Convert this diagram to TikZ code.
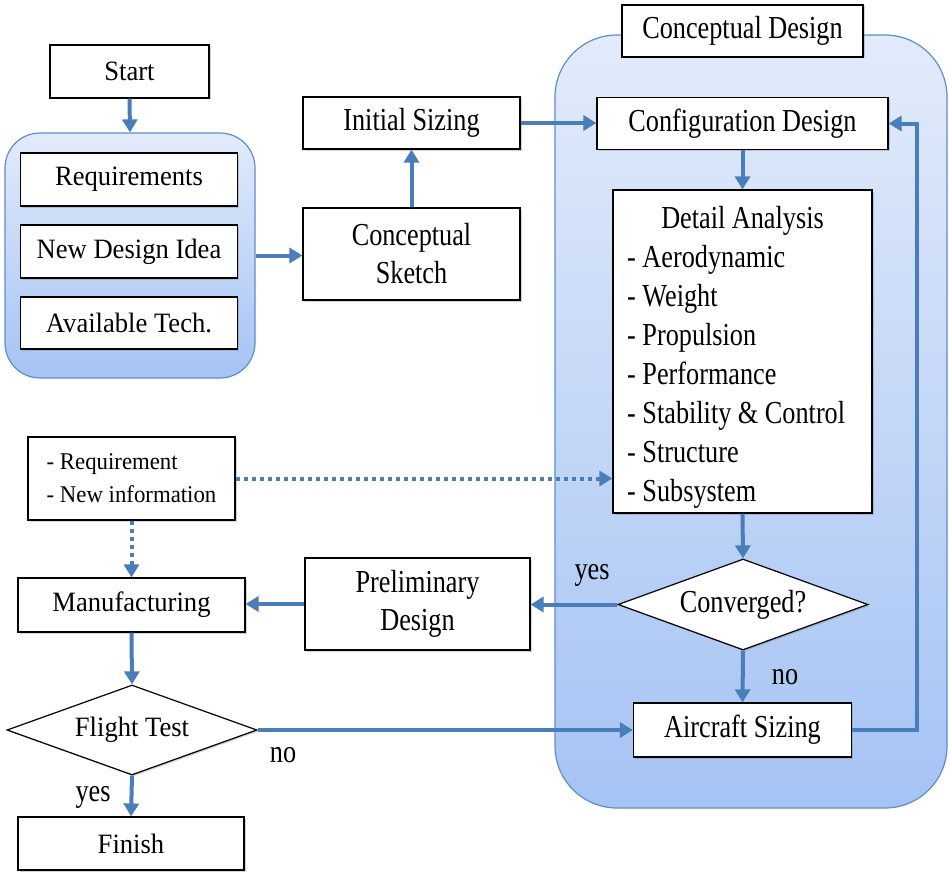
\documentclass[tikz,border=0pt]{standalone}
\usepackage{fontspec}
\setmainfont[FakeStretch=0.82]{Liberation Serif}
\newfontfamily\leftfam[FakeStretch=0.95]{Liberation Serif}
\usetikzlibrary{arrows.meta,shapes.geometric,shadows}
\definecolor{arr}{HTML}{4A7EBB}
\definecolor{gborder}{HTML}{5F8DCA}
\definecolor{gtop}{HTML}{E2EBFA}
\definecolor{gbot}{HTML}{A5C3F4}
\begin{document}
\begin{tikzpicture}[x=1pt,y=-1pt,
  every node/.style={font=\fontsize{32}{38}\selectfont},
  lf/.style={font=\leftfam\fontsize{28}{34}\selectfont},
  shad/.style={drop shadow={shadow xshift=1.5pt,shadow yshift=-1.5pt,opacity=0.35}},
  box/.style={draw=black, line width=1.2pt, fill=white, inner sep=0pt, align=center, shad},
  dia/.style={diamond, aspect=2.75, draw=black, line width=1.2pt, fill=white, inner sep=0pt, shad},
  grp/.style={draw=gborder, line width=1.2pt, top color=gtop, bottom color=gbot, inner sep=0pt},
  flow/.style={draw=arr, line width=4pt, -{Triangle[length=13pt,width=15pt]}},
  dots/.style={flow, dash pattern=on 4pt off 4pt},
  lbl/.style={inner sep=0pt}
]
\useasboundingbox (0,0) rectangle (949,872);

% group containers
\node[grp, rounded corners=35pt, minimum width=250pt, minimum height=245pt] (grp) at (130,255.5) {};
\node[grp, rounded corners=62pt, minimum width=392pt, minimum height=773pt] (cd) at (751,421.5) {};

% left column
\node[box, lf, minimum width=159pt, minimum height=53pt] (start) at (129.5,71.5) {Start};
\node[box, lf, minimum width=217pt, minimum height=53pt] (req) at (129,179.5) {Requirements};
\node[box, lf, minimum width=217pt, minimum height=53pt] (ndi) at (129,251.5) {New Design Idea};
\node[box, lf, minimum width=217pt, minimum height=52pt] (avail) at (129,323) {Available Tech.};

\node[box, minimum width=207pt, minimum height=83pt, align=left, font=\leftfam\fontsize{24}{33}\selectfont] (reqinfo) at (131.5,478.5) {- Requirement\\- New information};
\node[box, lf, minimum width=227pt, minimum height=54pt] (manu) at (131.5,605) {Manufacturing};
\node[dia, lf, minimum width=250pt, minimum height=90pt] (flight) at (132,730) {Flight Test};
\node[box, lf, minimum width=226pt, minimum height=53pt] (finish) at (131,843.5) {Finish};

% middle column
\node[box, minimum width=217pt, minimum height=92pt] (csketch) at (411.5,254) {Conceptual\\Sketch};
\node[box, minimum width=217pt, minimum height=52pt] (isizing) at (411.5,123) {Initial Sizing};
\node[box, minimum width=225pt, minimum height=92pt] (prelim) at (417.5,604) {Preliminary\\Design};

% conceptual design column
\node[box, minimum width=241pt, minimum height=52pt] (cdlabel) at (742.5,31) {Conceptual Design};
\node[box, minimum width=291pt, minimum height=52pt] (config) at (742.5,123.5) {Configuration Design};
\node[box, minimum width=259pt, minimum height=323pt] (detail) at (742.5,351.5) {};
\node[lbl, anchor=base] (dtitle) at (742.5,228) {Detail Analysis};
\foreach \t [count=\i] in {Aerodynamic, Weight, Propulsion, Performance, {Stability \& Control}, Structure, Subsystem}
  \node[lbl, anchor=base west] (ditem\i) at (627,{267+39*(\i-1)}) {- \t};
\node[dia, minimum width=250pt, minimum height=91pt] (conv) at (743,604.5) {Converged?};
\node[box, minimum width=218pt, minimum height=54pt] (asizing) at (742.5,730) {Aircraft Sizing};

% labels
\node[lbl] (yes1) at (592,575) {yes};
\node[lbl] (no1) at (785,677) {no};
\node[lbl] (no2) at (283,755) {no};
\node[lbl] (yes2) at (93,797) {yes};

% connectors
\draw[flow] (start.south) -- (grp.north);
\draw[flow] (grp.east) -- (grp.east -| csketch.west);
\draw[flow] (csketch.north) -- (isizing.south);
\draw[flow] (isizing.east) -- (isizing.east -| config.west);
\draw[flow] (config.south) -- (detail.north);
\draw[flow] (detail.south) -- (conv.north);
\draw[flow] (conv.west) -- (conv.west -| prelim.east);
\draw[flow] (prelim.west) -- (prelim.west -| manu.east);
\draw[flow] (conv.south) -- (asizing.north);
\coordinate (fb) at (917,730);
\draw[flow] (asizing.east) -- (fb) |- (config.east);
\draw[dots] (reqinfo.east) -- (reqinfo.east -| detail.west);
\draw[dots] (reqinfo.south) -- (reqinfo.south |- manu.north);
\draw[flow] (manu.south) -- (flight.north);
\draw[flow] (flight.east) -- (flight.east -| asizing.west);
\draw[flow] (flight.south) -- (finish.north);
\end{tikzpicture}
\end{document}
